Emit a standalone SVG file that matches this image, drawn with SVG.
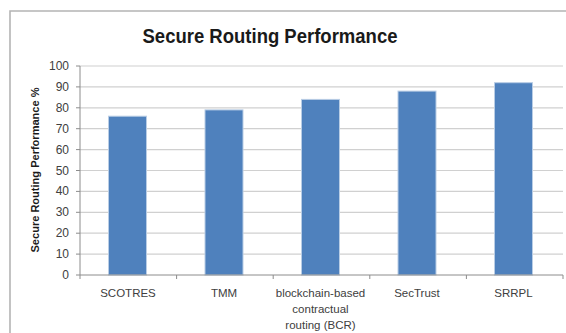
<svg xmlns="http://www.w3.org/2000/svg" width="566" height="333" viewBox="0 0 566 333">
<style>
.grid{stroke:#d0d0d0;stroke-width:1.2}
.axis{stroke:#8c8c8c;stroke-width:1}
.bar{fill:#4f81bd;stroke:#b9cde5;stroke-width:1}
.yl{font-family:"Liberation Sans",Arial,sans-serif;font-size:12px;fill:#404040;text-anchor:end}
.xl{font-family:"Liberation Sans",Arial,sans-serif;font-size:11.5px;fill:#404040;text-anchor:middle}
</style>
<rect x="0" y="0" width="566" height="333" fill="#fff"/>
<path d="M10 333 V11 H566" fill="none" stroke="#b4b4b4" stroke-width="1.6"/>
<text x="270" y="43" font-family="Liberation Sans,Arial,sans-serif" font-weight="bold" font-size="19.5" fill="#1a1a1a" text-anchor="middle" textLength="255" lengthAdjust="spacingAndGlyphs">Secure Routing Performance</text>
<g id="grid">
<line class="grid" x1="80" y1="66" x2="563" y2="66"/>
<line class="grid" x1="80" y1="86.9" x2="563" y2="86.9"/>
<line class="grid" x1="80" y1="107.8" x2="563" y2="107.8"/>
<line class="grid" x1="80" y1="128.7" x2="563" y2="128.7"/>
<line class="grid" x1="80" y1="149.6" x2="563" y2="149.6"/>
<line class="grid" x1="80" y1="170.5" x2="563" y2="170.5"/>
<line class="grid" x1="80" y1="191.4" x2="563" y2="191.4"/>
<line class="grid" x1="80" y1="212.3" x2="563" y2="212.3"/>
<line class="grid" x1="80" y1="233.2" x2="563" y2="233.2"/>
<line class="grid" x1="80" y1="254.1" x2="563" y2="254.1"/>
</g>
<g id="bars">
<rect id="b1" class="bar" x="108.5" y="116.2" width="38" height="158.8"/>
<rect id="b2" class="bar" x="205" y="109.9" width="38" height="165.1"/>
<rect id="b3" class="bar" x="301.5" y="99.4" width="38" height="175.6"/>
<rect id="b4" class="bar" x="398" y="91.1" width="38" height="183.9"/>
<rect id="b5" class="bar" x="494.5" y="82.7" width="38" height="192.3"/>
</g>
<g id="axes">
<line class="axis" x1="80" y1="66" x2="80" y2="275"/>
<line class="axis" x1="80" y1="275" x2="563" y2="275"/>
<path class="axis" d="M76 66H80M76 86.9H80M76 107.8H80M76 128.7H80M76 149.6H80M76 170.5H80M76 191.4H80M76 212.3H80M76 233.2H80M76 254.1H80M76 275H80"/>
<path class="axis" d="M80 275V279M176.6 275V279M273.2 275V279M369.8 275V279M466.4 275V279M563 275V279"/>
</g>
<g id="ylabels">
<text class="yl" x="69" y="70">100</text>
<text class="yl" x="69" y="90.9">90</text>
<text class="yl" x="69" y="111.8">80</text>
<text class="yl" x="69" y="132.7">70</text>
<text class="yl" x="69" y="153.6">60</text>
<text class="yl" x="69" y="174.5">50</text>
<text class="yl" x="69" y="195.4">40</text>
<text class="yl" x="69" y="216.3">30</text>
<text class="yl" x="69" y="237.2">20</text>
<text class="yl" x="69" y="258.1">10</text>
<text class="yl" x="69" y="279">0</text>
</g>
<text transform="translate(39 170) rotate(-90)" font-family="Liberation Sans,Arial,sans-serif" font-weight="bold" font-size="11" fill="#1a1a1a" text-anchor="middle" textLength="165" lengthAdjust="spacingAndGlyphs">Secure Routing Performance %</text>
<g id="xlabels">
<text class="xl" x="128" y="297">SCOTRES</text>
<text class="xl" x="224" y="297">TMM</text>
<text class="xl" x="320.5" y="297">blockchain-based</text>
<text class="xl" x="320.5" y="313">contractual</text>
<text class="xl" x="320.5" y="329">routing (BCR)</text>
<text class="xl" x="417" y="297">SecTrust</text>
<text class="xl" x="513.5" y="297">SRRPL</text>
</g>
</svg>
